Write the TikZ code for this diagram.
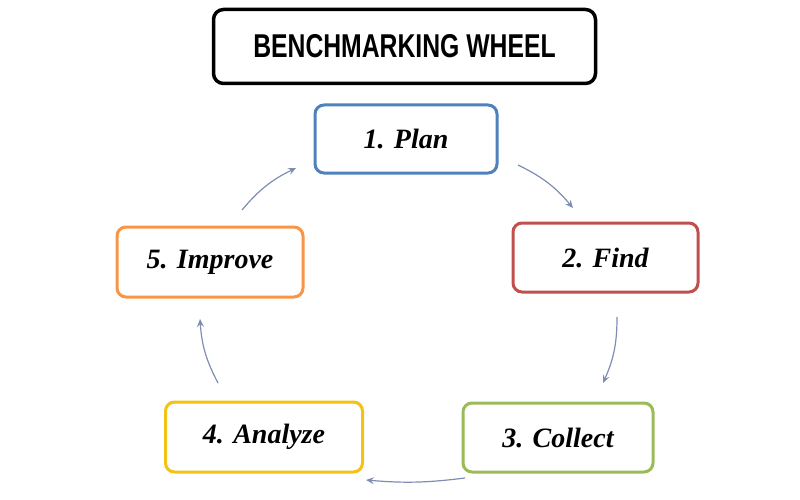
\documentclass[tikz,border=0pt]{standalone}
\usepackage{fontspec}
\setmainfont{Liberation Serif}
\newfontfamily\titlefont{Liberation Sans}
\usetikzlibrary{arrows.meta}
\definecolor{cblue}{HTML}{4F81BD}
\definecolor{cred}{HTML}{C0504D}
\definecolor{cgreen}{HTML}{9BBB59}
\definecolor{cyellow}{HTML}{F2C314}
\definecolor{corange}{HTML}{F79646}
\definecolor{carrow}{HTML}{7F8DB3}
\tikzset{
  stepbox/.style={draw=#1, line width=3pt, rounded corners=9pt, fill=white, inner sep=0pt},
  titlebox/.style={draw=black, line width=3.5pt, rounded corners=10pt, fill=white, minimum width=382pt, minimum height=74pt},
  steplabel/.style={font=\fontsize{28}{30}\selectfont\bfseries\itshape},
  cyc/.style={draw=carrow, line width=1.2pt, -{Stealth[length=8pt,width=7pt,inset=3pt]}}
}
\begin{document}
\begin{tikzpicture}[x=1pt,y=-1pt]
\useasboundingbox (0,0) rectangle (800,500);
\node[titlebox] (title) at (404.5,46.5) {\titlefont\bfseries\fontsize{33}{35}\selectfont\scalebox{0.75}[1]{BENCHMARKING WHEEL}};
\node[stepbox=cblue, minimum width=182pt, minimum height=68pt] (plan) at (406,139) {};
\node[steplabel] at (plan) {1. Plan};
\node[stepbox=cred, minimum width=185pt, minimum height=69pt] (find) at (605.5,257.5) {};
\node[steplabel] at (find) {2. Find};
\node[stepbox=cgreen, minimum width=190pt, minimum height=69pt] (collect) at (558,437.5) {};
\node[steplabel] at (collect) {3. Collect};
\node[stepbox=cyellow, minimum width=197pt, minimum height=70pt] (analyze) at (264,437) {};
\node[steplabel] at (analyze) {4. Analyze};
\node[stepbox=corange, minimum width=186pt, minimum height=70pt] (improve) at (210,262) {};
\node[steplabel] at (improve) {5. Improve};
\coordinate (a1s) at (518,165); \coordinate (a1e) at (573,208);
\coordinate (a2s) at (617,317); \coordinate (a2e) at (603,383);
\coordinate (a3s) at (465,478); \coordinate (a3e) at (366,480);
\coordinate (a4s) at (218,383); \coordinate (a4e) at (200,319);
\coordinate (a5s) at (242,210); \coordinate (a5e) at (296,168);
\draw[cyc] (a1s) to[bend left=12] (a1e);
\draw[cyc] (a2s) to[bend left=12] (a2e);
\draw[cyc] (a3s) to[bend left=6] (a3e);
\draw[cyc] (a4s) to[bend left=12] (a4e);
\draw[cyc] (a5s) to[bend left=12] (a5e);
\end{tikzpicture}
\end{document}
